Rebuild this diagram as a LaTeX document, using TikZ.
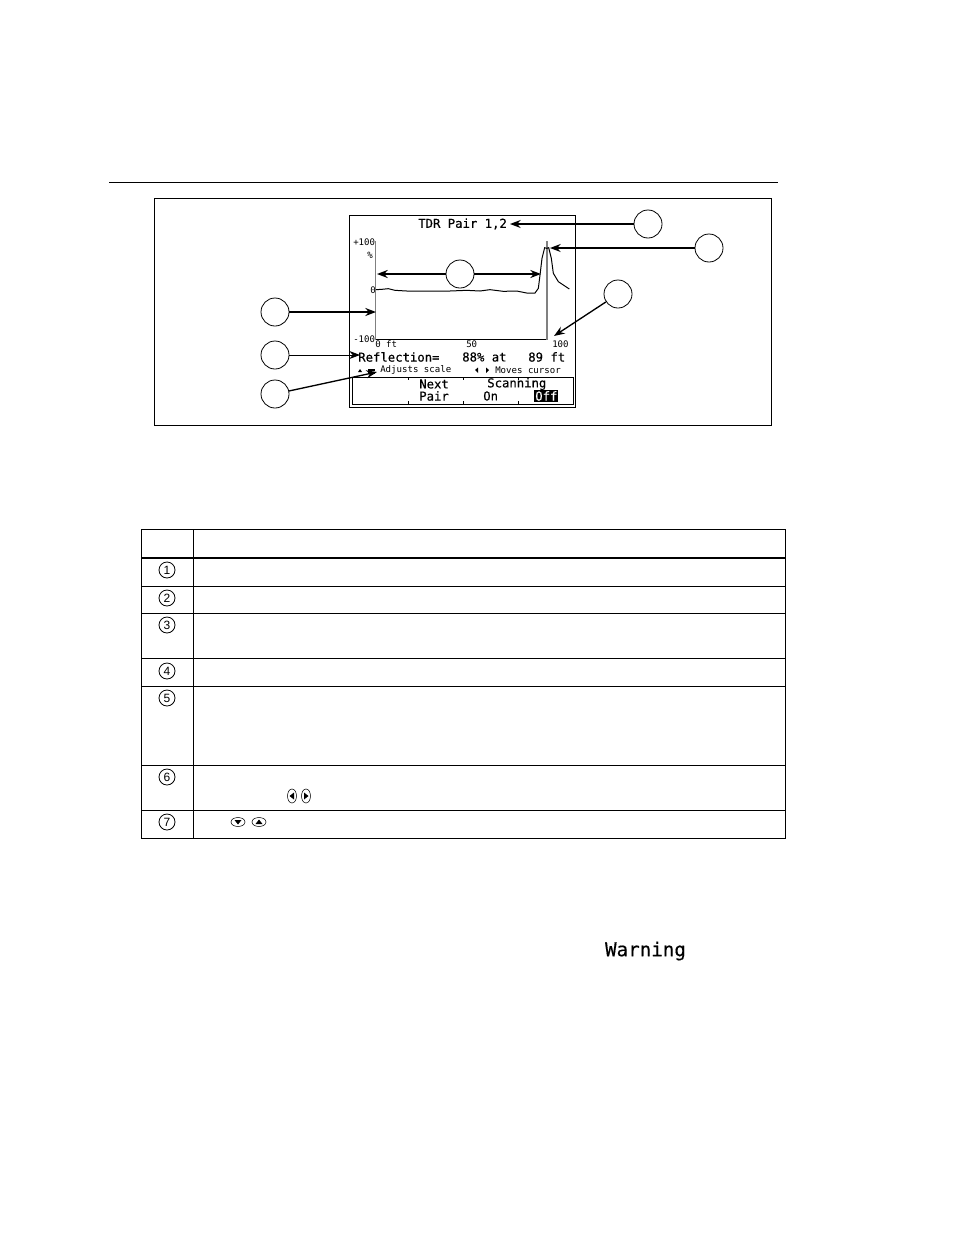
\documentclass[tikz,border=0pt]{standalone}
\usepackage{fontspec}
\setmainfont{Liberation Sans}
\newfontfamily\lcd[FakeBold=0.3]{DejaVu Sans Mono}
\newfontfamily\lcdthin{DejaVu Sans Mono}
\usetikzlibrary{arrows.meta}
\tikzset{
  callout/.style={circle,draw=black,line width=0.6pt,fill=white,minimum size=21pt,inner sep=0pt},
  lead/.style={line width=1pt,-{Stealth[length=8pt,width=6pt]}},
  biglcd/.style={font=\lcd\fontsize{9.2pt}{10pt}\selectfont,inner sep=0pt,anchor=west},
  smalllcd/.style={font=\lcdthin\fontsize{6.8pt}{8pt}\selectfont,inner sep=0pt,anchor=west},
  rowline/.style={line width=0.65pt},
  num/.style={circle,draw=black,line width=0.6pt,minimum size=12pt,inner sep=0pt,font=\fontsize{9pt}{10pt}\selectfont}
}
\begin{document}
\begin{tikzpicture}[x=0.75pt,y=-0.75pt]
\useasboundingbox (0,0) rectangle (954,1235);
\draw[line width=0.6pt] (109,182) -- (778,182);
\draw[line width=0.65pt] (154,198) rectangle (771,425);
% screen
\draw[line width=0.65pt] (349,215) rectangle (575,407);
\node[biglcd] (title) at (418,224) {TDR Pair 1,2};
\node[smalllcd] at (353,242) {+100};
\node[smalllcd] at (367,255) {\%};
\node[smalllcd] at (370,290) {0};
\node[smalllcd] at (353,339) {-100};
\node[smalllcd] at (375,344) {0 ft};
\node[smalllcd] at (466,344) {50};
\node[smalllcd] at (552,344) {100};
\node[biglcd] (refl) at (358,357) {Reflection=};
\node[biglcd] at (462,357) {88\% at};
\node[biglcd] at (528,357) {89 ft};
\node[smalllcd] (adj) at (380,370) {Adjusts scale};
\node[smalllcd] at (495,370) {Moves cursor};
\fill (358,372) -- (362,372) -- (360,369) -- cycle;
\fill (368,369) rectangle (375,370.5); \fill (368,372) rectangle (375,373.5);
\fill (478,367.5) -- (478,373) -- (475,370) -- cycle;
\fill (486,367.5) -- (486,373) -- (489,370) -- cycle;
% softkey box
\draw[line width=0.65pt] (352,377) rectangle (573,404);
\foreach \x in {408,463,518}{\draw[line width=0.5pt] (\x,377) -- (\x,380); \draw[line width=0.5pt] (\x,401) -- (\x,404);}
\node[biglcd] at (419,384) {Next};
\node[biglcd] at (419,396) {Pair};
\node[biglcd] at (487,384) {Scanning};
\node[biglcd] at (483,396) {On};
\fill (534,390) rectangle (558,402);
\node[biglcd,text=white] at (535,396) {Off};
% plot
\begin{scope}[shift={(340,205)},x=0.25pt,y=-0.25pt]
\draw[line width=1pt,black!50] (107,108) -- (107,404);
\draw[line width=0.8pt] (107,404) -- (622,404);
\draw[line width=1pt,black!50] (621,108) -- (621,404);
\draw[line width=0.75pt] (108,254) -- (125,253) -- (145,251) -- (165,256) -- (200,258) -- (250,258) -- (290,258) -- (330,258) -- (380,256) -- (420,258) -- (450,254) -- (490,259) -- (530,258) -- (560,264) -- (585,264) -- (595,250) -- (600,210) -- (606,160) -- (614,128) -- (620,130) -- (626,128) -- (634,160) -- (640,205) -- (655,230) -- (670,240) -- (688,252);
\end{scope}
% callouts
\node[callout] (c1) at (648,224) {};
\node[callout] (c2) at (709,248) {};
\node[callout] (c3) at (618,294) {};
\node[callout] (c4) at (275,312) {};
\node[callout] (c5) at (275,355) {};
\node[callout] (c6) at (275,394) {};
\node[callout] (c7) at (460,274) {};
\coordinate (pL) at (376,312);
\coordinate (arL) at (377,274);
\coordinate (arR) at (541,274);
\coordinate (pCur) at (550,248);
\coordinate (pCurB) at (554,336);
\coordinate (pRefl) at (360,355);
\coordinate (pAdj) at (377,372);
\coordinate (pTitle) at (510,224);
\draw[lead,line width=1.3pt] (c4.east) -- (pL);
\draw[lead,line width=0.6pt] (c5.east) -- (pRefl);
\draw[lead] (c6) -- (pAdj);
\draw[lead] (c1.west) -- (pTitle);
\draw[lead] (c2.west) -- (pCur);
\draw[lead] (c3) -- (pCurB);
\draw[lead,line width=1.4pt] (c7.west) -- (arL);
\draw[lead,line width=1.4pt] (c7.east) -- (arR);
% table
\draw[rowline] (141,529) rectangle (785,838);
\draw[rowline] (193,529) -- (193,838);
\draw[line width=1.6pt] (141,558) -- (785,558);
\foreach \y in {586,613,658,686,765,810}{\draw[rowline] (141,\y) -- (785,\y);}
\node[num] (n1) at (167,570) {1};
\node[num] (n2) at (167,598) {2};
\node[num] (n3) at (167,625) {3};
\node[num] (n4) at (167,671) {4};
\node[num] (n5) at (167,698) {5};
\node[num] (n6) at (167,777) {6};
\node[num] (n7) at (167,822) {7};
% key glyphs
\draw[line width=0.4pt] (292,796) ellipse (4.5 and 7);
\fill (294,792.5) -- (294,799.5) -- (289.5,796) -- cycle;
\draw[line width=0.4pt] (306,796) ellipse (4.5 and 7);
\fill (304,792.5) -- (304,799.5) -- (308.5,796) -- cycle;
\draw[line width=0.4pt] (238,822) ellipse (7 and 4.5);
\fill (234.5,820) -- (241.5,820) -- (238,824.5) -- cycle;
\draw[line width=0.4pt] (259,822) ellipse (7 and 4.5);
\fill (255.5,824) -- (262.5,824) -- (259,819.5) -- cycle;
\node[font=\lcd\fontsize{14.4pt}{16pt}\selectfont,inner sep=0pt] (warn) at (645.5,951) {Warning};
\end{tikzpicture}
\end{document}
